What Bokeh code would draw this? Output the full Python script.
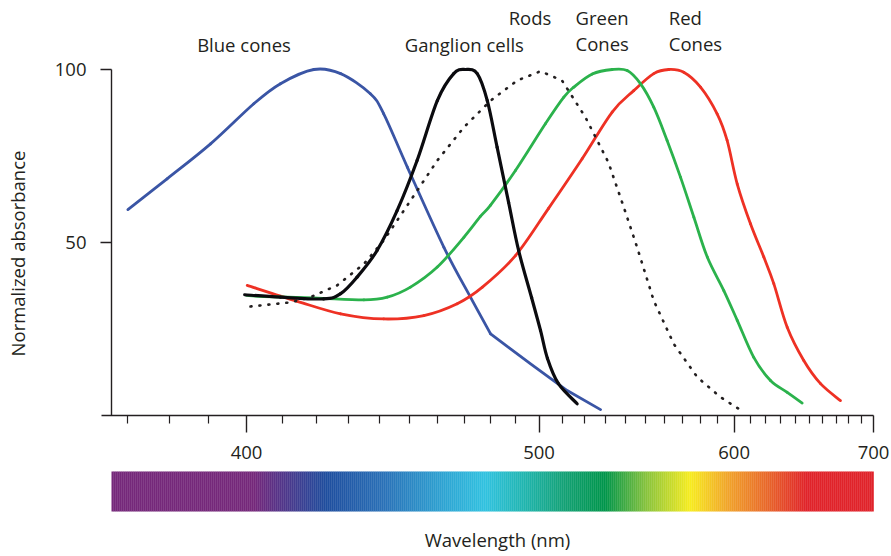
import numpy as np
from bokeh.plotting import figure
from bokeh.models import (Range1d, FixedTicker, CustomJSTickFormatter, LinearAxis,
                          ColumnDataSource)
from bokeh.core.properties import value
from bokeh.embed import file_html
from bokeh.resources import INLINE

# ---------------- data (wavelength in nm, normalized absorbance) ----------------
blue_nm = [370.0, 379.4, 390.4, 402.0, 409.5, 419.3, 427.5, 437.0, 441.4, 449.4,
           462.4, 472.3, 480.1, 496.4, 512.3, 527.7]
blue_v = [59.5, 68.4, 78.5, 90.1, 95.9, 100.0, 98.8, 93.0, 87.2, 71.8,
          48.6, 34.2, 23.6, 14.9, 7.2, 1.7]

ganglion_nm = [399.5, 409.5, 422.3, 427.5, 432.7, 439.2, 445.9, 452.8, 460.0, 466.0,
               470.4, 474.9, 478.8, 482.7, 487.3, 491.4, 496.8, 500.6, 503.6, 508.4, 516.8]
ganglion_v = [34.9, 34.2, 33.7, 35.2, 40.0, 47.7, 59.2, 73.7, 91.0, 98.8,
              100.0, 98.8, 91.0, 77.5, 61.6, 47.7, 34.1, 24.6, 16.5, 9.2, 3.4]

rods_nm = [401.1, 412.4, 418.3, 426.4, 434.9, 441.4, 450.5, 460.0, 469.8, 480.1,
           490.8, 500.6, 510.0, 520.6, 531.5, 539.0, 545.7, 554.3, 565.0, 578.1,
           591.7, 602.9]
rods_v = [31.5, 32.7, 34.2, 37.6, 43.8, 50.6, 62.1, 73.7, 83.3, 91.0,
          96.8, 99.5, 96.8, 86.2, 73.1, 60.2, 48.6, 33.2, 20.7, 11.1,
          5.3, 1.9]

green_nm = [400.0, 404.8, 419.3, 434.9, 442.6, 450.5, 460.0, 469.8, 476.2, 480.1,
            490.1, 502.7, 510.8, 515.3, 523.8, 533.3, 540.7, 547.4, 554.3, 561.4,
            568.7, 576.2, 583.9, 593.7, 601.9, 612.3, 623.2, 634.5, 645.0]
green_v = [34.7, 34.4, 34.0, 33.4, 34.2, 37.1, 42.9, 51.5, 57.6, 60.8,
           70.8, 84.3, 92.0, 94.9, 98.7, 100.0, 99.7, 95.9, 89.1, 79.5,
           68.9, 57.3, 45.8, 36.1, 27.5, 16.8, 10.1, 6.7, 3.6]

red_nm = [400.2, 414.4, 427.5, 441.4, 455.2, 467.3, 476.9, 490.1, 504.0, 519.1,
          533.3, 544.0, 554.3, 562.3, 570.5, 580.0, 589.7, 595.7, 601.9, 610.2,
          618.8, 625.4, 634.5, 646.1, 658.3, 673.4]
red_v = [37.6, 33.0, 29.4, 27.9, 28.9, 32.3, 37.1, 46.2, 59.8, 74.2,
         87.7, 93.9, 98.8, 100.0, 99.2, 94.9, 87.2, 79.5, 66.9, 55.4,
         45.8, 38.1, 25.5, 15.9, 9.2, 4.3]

major_ticks_nm = [400, 500, 600, 700]
minor_ticks_nm = [370, 380, 390, 410, 420, 430, 440, 450, 460, 470, 480, 490,
                  510, 520, 530, 540, 550, 560, 570, 580, 590,
                  610, 620, 630, 640, 650, 660, 670, 680, 690]
y_ticks = [50, 100]

curve_labels = ["Blue cones", "Ganglion cells", "Rods", "Green", "Cones", "Red", "Cones"]

# spectrum colour stops (wavelength nm, colour)
spectrum_nm = [366, 402, 408, 423, 441, 462, 478, 494, 511, 530, 550, 574, 596, 621, 648, 700]
spectrum_col = ["#75287a", "#75287a", "#5a3286", "#1f4e9e", "#2a70b7", "#2ea3d2", "#31c2e0",
                "#20b5ae", "#14a175", "#00954a", "#85c23d", "#f7ec1f", "#f1a42a", "#e8672a",
                "#e0232a", "#e0232a"]

# ---------------- layout helpers ----------------
# x axis is a reciprocal (wavenumber-like) scale: plot in u = -1e5 / wavelength
def u(nm):
    return -1e5 / np.asarray(nm, dtype=float)

OFF = 0               # canvas offset on the page
W, H = 891, 556
PX_PER_U = 5.852      # pixels per u unit
PX_ORIGIN = 1709 - OFF
PX_PER_V = 3.46
Y0 = 415 - OFF        # canvas y of v = 0
TSHIFT = 9            # text anchor correction (px)

def cx_to_u(px):
    return (px - OFF - PX_ORIGIN) / PX_PER_U

def cy_to_v(py):
    return (Y0 - (py - OFF)) / PX_PER_V

TXT = "#231f20"
FONT = value("Open Sans")
FS = "18.5px"

p = figure(width=W, height=H, output_backend="svg", toolbar_location=None,
           x_range=Range1d(cx_to_u(OFF), cx_to_u(OFF + W)),
           y_range=Range1d(cy_to_v(OFF + H), cy_to_v(OFF)),
           x_axis_type=None, y_axis_type=None, min_border=0)
p.outline_line_color = None
p.background_fill_color = "white"
p.border_fill_color = "white"

# spectrum bar
n_slices = 381
edges = np.linspace(cx_to_u(111), float(u(700)), n_slices + 1)
stop_u = u(spectrum_nm)
rgb = np.array([[int(c[i:i + 2], 16) for i in (1, 3, 5)] for c in spectrum_col], dtype=float)
mids = 0.5 * (edges[:-1] + edges[1:])
cols = []
for m in mids:
    r = np.interp(m, stop_u, rgb[:, 0]); g = np.interp(m, stop_u, rgb[:, 1]); b = np.interp(m, stop_u, rgb[:, 2])
    cols.append("#%02x%02x%02x" % (int(round(r)), int(round(g)), int(round(b))))
p.quad(left=edges[:-1], right=edges[1:] + 0.05, bottom=cy_to_v(511), top=cy_to_v(471),
       fill_color=cols, line_color=None)


def smooth(p, xs, ys, **kw):
    """Draw a curve through the data points as Catmull-Rom cubic Bezier segments."""
    x = np.asarray(xs, float); y = np.asarray(ys, float)
    n = len(x)
    xp = np.concatenate([[x[0]], x, [x[-1]]]); yp = np.concatenate([[y[0]], y, [y[-1]]])
    x0 = x[:-1]; y0 = y[:-1]; x1 = x[1:]; y1 = y[1:]
    cx0 = x0 + (xp[2:n + 1] - xp[0:n - 1]) / 6.0
    cy0 = y0 + (yp[2:n + 1] - yp[0:n - 1]) / 6.0
    cx1 = x1 - (xp[3:n + 2] - xp[1:n]) / 6.0
    cy1 = y1 - (yp[3:n + 2] - yp[1:n]) / 6.0
    p.bezier(x0=x0, y0=y0, x1=x1, y1=y1, cx0=cx0, cy0=cy0, cx1=cx1, cy1=cy1, **kw)


# curves
lw = 2.8
k = blue_nm.index(480.1)   # blue curve has a sharp bend here
smooth(p, u(blue_nm[:k + 1]), blue_v[:k + 1], line_color="#3a55a5", line_width=lw, line_cap="round")
p.line(u(blue_nm[k:]), blue_v[k:], line_color="#3a55a5", line_width=lw, line_join="round", line_cap="round")
smooth(p, u(red_nm), red_v, line_color="#ee3124", line_width=lw, line_cap="round")
smooth(p, u(green_nm), green_v, line_color="#2bb24c", line_width=lw, line_cap="round")
p.line(u(rods_nm), rods_v, line_color="#231f20", line_width=2.6, line_dash="1 8", line_cap="round")
smooth(p, u(ganglion_nm), ganglion_v, line_color="#0b0b0f", line_width=3.2, line_cap="round")

# axes
xaxis = LinearAxis(fixed_location=0, bounds=(cx_to_u(101), float(u(700))),
                   ticker=FixedTicker(ticks=list(u(major_ticks_nm)), minor_ticks=list(u(minor_ticks_nm))),
                   formatter=CustomJSTickFormatter(code="return Math.round(-1e5 / tick).toString()"))
xaxis.major_tick_out = 17
xaxis.major_tick_in = 0
xaxis.minor_tick_out = 8
xaxis.minor_tick_in = 0
xaxis.axis_line_color = TXT
xaxis.major_tick_line_color = TXT
xaxis.minor_tick_line_color = TXT
xaxis.axis_line_width = 1.4
xaxis.major_tick_line_width = 1.4
xaxis.minor_tick_line_width = 1.2
xaxis.major_label_standoff = 13
xaxis.major_label_text_font = "Open Sans"
xaxis.major_label_text_font_size = FS
xaxis.major_label_text_color = TXT
p.add_layout(xaxis, "below")

yaxis = LinearAxis(fixed_location=cx_to_u(111), bounds=(0, 100),
                   ticker=FixedTicker(ticks=y_ticks, minor_ticks=[]))
yaxis.major_tick_out = 11
yaxis.major_tick_in = 0
yaxis.axis_line_color = TXT
yaxis.major_tick_line_color = TXT
yaxis.axis_line_width = 1.4
yaxis.major_tick_line_width = 1.4
yaxis.major_label_standoff = 14
yaxis.major_label_text_font = "Open Sans"
yaxis.major_label_text_font_size = FS
yaxis.major_label_text_color = TXT
p.add_layout(yaxis, "left")

# curve labels (positions in page px -> data)
lab_x = [cx_to_u(243.5), cx_to_u(463.8), cx_to_u(529.5), cx_to_u(575),
         cx_to_u(575), cx_to_u(668.3), cx_to_u(668.3)]
lab_y = [cy_to_v(53 - TSHIFT), cy_to_v(52.5 - TSHIFT), cy_to_v(26 - TSHIFT), cy_to_v(26 - TSHIFT),
         cy_to_v(52 - TSHIFT), cy_to_v(26 - TSHIFT), cy_to_v(52 - TSHIFT)]
lab_align = ["center", "center", "center", "left", "left", "left", "left"]
src = ColumnDataSource(dict(x=lab_x, y=lab_y, t=curve_labels, a=lab_align))
p.text(x="x", y="y", text="t", text_align="a", source=src, text_baseline="alphabetic",
       text_font=FONT, text_font_size=value(FS), text_color=TXT)

# axis titles
p.text(x=[cx_to_u(25.5 - TSHIFT)], y=[cy_to_v(253)], text=["Normalized absorbance"], angle=np.pi / 2,
       text_align="center", text_baseline="alphabetic", text_font=FONT, text_font_size=value(FS),
       text_color=TXT)
p.text(x=[cx_to_u(497.0)], y=[cy_to_v(547.5 - TSHIFT)], text=["Wavelength (nm)"],
       text_align="center", text_baseline="alphabetic", text_font=FONT, text_font_size=value(FS),
       text_color=TXT)

open("out.html", "w").write(file_html(p, INLINE))
